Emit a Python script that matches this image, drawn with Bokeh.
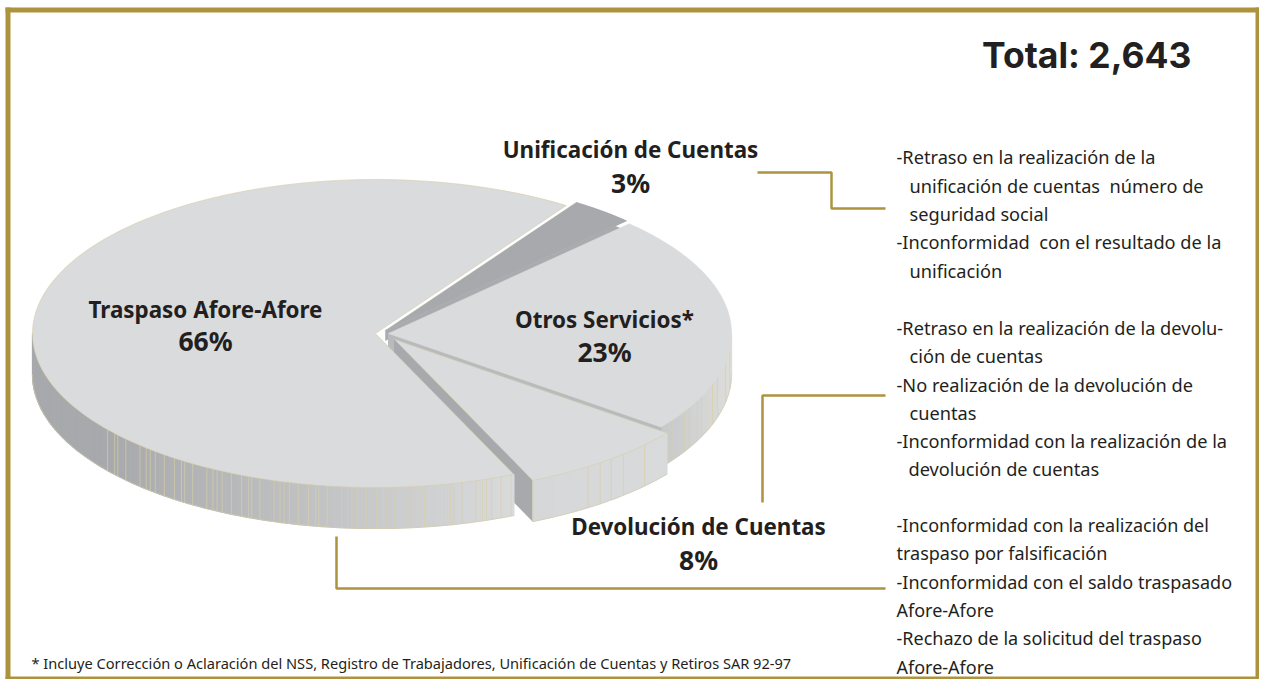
import numpy as np
from bokeh.plotting import figure
from bokeh.models import Range1d
from bokeh.core.properties import value
from bokeh.embed import file_html
from bokeh.resources import INLINE

# ---- data ----
categories = ["Traspaso Afore-Afore", "Devolución de Cuentas", "Otros Servicios*", "Unificación de Cuentas"]
shares = [66, 8, 23, 3]
percent_labels = ["66%", "8%", "23%", "3%"]
total_label = "Total: 2,643"
footnote = "* Incluye Corrección o Aclaración del NSS, Registro de Trabajadores, Unificación de Cuentas y Retiros SAR 92-97"
unif_notes = ["-Retraso en la realización de la", "unificación de cuentas \u00a0número de", "seguridad social",
              "-Inconformidad \u00a0con el resultado de la", "unificación"]
devo_notes = ["-Retraso en la realización de la devolu-", "ción de cuentas", "-No realización de la devolución de",
              "cuentas", "-Inconformidad con la realización de la", "devolución de cuentas"]
tras_notes = ["-Inconformidad con la realización del", "traspaso por falsificación",
              "-Inconformidad con el saldo traspasado", "Afore-Afore",
              "-Rechazo de la solicitud del traspaso", "Afore-Afore"]

# ---- style / layout ----
GOLD = "#ae933e"
INK = "#231f20"
TOP = "#dadbdc"
DARK = "#a7a9ac"
EDGE = "#d6cda8"
RX, RY = 343, 154
DEPTH = 41
START = 56.2
UI = "Noto Sans"
W, H = 1259, 679

p = figure(width=W, height=H, output_backend="svg", toolbar_location=None,
           x_range=Range1d(0, W), y_range=Range1d(H, 0), min_border=0,
           outline_line_color=None, background_fill_color="white", border_fill_color="white")
p.axis.visible = False
p.grid.visible = False

# slice angle spans from the shares
spans = {}
a = START
for c, s in zip(categories, shares):
    spans[c] = (a, a + s * 3.6)
    a += s * 3.6


def pt(c, ang):
    t = np.radians(ang)
    return c[0] + RX * np.cos(t), c[1] - RY * np.sin(t)


def arc(c, a0, a1, n=120):
    return [pt(c, t) for t in np.linspace(a0, a1, n)]


def top_wedge(c, a0, a1, fill, edge=None):
    pts = [c] + arc(c, a0, a1)
    p.patch([q[0] for q in pts], [q[1] for q in pts], fill_color=fill,
            line_color=edge or fill, line_width=0.6)


def mix(c1, c2, f):
    f = float(np.clip(f, 0, 1))
    a_ = [int(c1[i:i+2], 16) for i in (1, 3, 5)]
    b_ = [int(c2[i:i+2], 16) for i in (1, 3, 5)]
    return "#%02x%02x%02x" % tuple(int(round(x + (y - x) * f)) for x, y in zip(a_, b_))


def side(c, a0, a1, colour_at, depth=DEPTH, step=1.0, line_every=None, line_from=0):
    ts = np.arange(a0, a1 + step, step)
    ts[-1] = a1
    xs, ys, cols = [], [], []
    for t0, t1 in zip(ts[:-1], ts[1:]):
        x0, y0 = pt(c, t0)
        x1, y1 = pt(c, t1)
        xs.append([x0, x1, x1, x0])
        ys.append([y0, y1, y1 + depth, y0 + depth])
        cols.append(colour_at((x0 + x1) / 2))
    p.patches(xs, ys, fill_color=cols, line_color=cols, line_width=1.2)
    bot = [pt(c, t) for t in ts]
    p.line([q[0] for q in bot], [q[1] + depth for q in bot], line_color=EDGE, line_width=0.6)
    if line_every:
        sx, sy, k = [], [], 0
        x_prev = None
        for t in np.arange(a0, a1, 0.05):
            x, y = pt(c, t)
            if x < line_from:
                continue
            if x_prev is None or abs(x - x_prev) >= line_every[k % len(line_every)]:
                sx.append([x, x])
                sy.append([y, y + depth])
                x_prev = x
                k += 1
        p.multi_line(sx, sy, line_color="#d8cfa6", line_width=0.8, line_alpha=0.85)


tras, devo, otro, unif = categories
c_tras, c_devo, c_otro, c_unif = (375, 333), (394, 339), (388, 333), (385, 330)

# Unificación (shown as a recessed, dark wedge)
a0, a1 = spans[unif]
a0 -= 360; a1 -= 360
pts = [(c_unif[0], c_unif[1] + 10)] + [(x, y + 10) for x, y in arc(c_unif, a0, a1, 20)] + arc(c_unif, a1, a0, 20) + [c_unif]
p.patch([q[0] for q in pts], [q[1] for q in pts], fill_color="#a9abae", line_color="#a9abae", line_width=0.5)
top_wedge(c_unif, a0, a1, DARK)

# Otros servicios
a0, a1 = spans[otro]
a0 -= 360; a1 -= 360
side(c_otro, a0, 0, lambda x: mix("#c6c7c9", "#dededb", (x - 660) / 73), depth=40, line_every=[5, 8, 4, 11], line_from=660)
pA, pB = c_otro, pt(c_otro, a0)
p.patch([pA[0], pB[0], pB[0], pA[0]], [pA[1], pB[1], pB[1] + 40, pA[1] + 40], fill_color="#b9babd", line_color="#b9babd")
top_wedge(c_otro, a0, a1, TOP)

# Devolución
a0, a1 = spans[devo]
a0 -= 360; a1 -= 360
pA, pB = c_devo, pt(c_devo, a0)
p.patch([pA[0], pB[0], pB[0], pA[0]], [pA[1], pB[1], pB[1] + DEPTH, pA[1] + DEPTH], fill_color=DARK, line_color=DARK)
side(c_devo, a0, a1, lambda x: mix("#d6d7d8", "#d9dadb", (x - 531) / 135), line_every=[21, 55, 12, 11, 12], line_from=531)
top_wedge(c_devo, a0, a1, TOP, EDGE)

# Traspaso
a0, a1 = spans[tras]
side(c_tras, 180, a1, lambda x: mix(DARK, "#d9dadb", (x - 107) / 405), line_every=[10, 7, 3, 8, 14, 6, 4, 5, 9], line_from=107)
top_wedge(c_tras, a0, a1, TOP, EDGE)

# leader lines
LW = 2.5
p.line([757, 831, 831, 885], [172, 172, 208, 208], line_color=GOLD, line_width=LW)
p.line([762, 762, 885], [502, 395, 395], line_color=GOLD, line_width=LW)
p.line([336, 336, 885], [536, 588, 588], line_color=GOLD, line_width=LW)

# frame
p.quad(left=5, right=W, top=7, bottom=12, fill_color=GOLD, line_color=None)
p.quad(left=5, right=10, top=7, bottom=H, fill_color=GOLD, line_color=None)
p.quad(left=W - 4, right=W, top=7, bottom=H, fill_color=GOLD, line_color=None)
p.quad(left=5, right=W, top=H - 3, bottom=H, fill_color=GOLD, line_color=None)


def label(x, y, txt, size, style="normal", align="left", font=UI):
    p.text([x], [y], text=[txt], text_font=value(font), text_font_size=f"{size}px",
           text_font_style=style, text_align=align, text_baseline="middle", text_color=INK)


# slice labels
name_pos = {tras: (205, 309), devo: (698, 526), otro: (604, 319), unif: (630, 149)}
pct_pos = {tras: (205, 340), devo: (698, 559), otro: (604, 351), unif: (630, 182)}
for c, pct in zip(categories, percent_labels):
    label(*name_pos[c], c, 22.4, "bold", "center")
    label(*pct_pos[c], pct, 26.5, "bold", "center")

label(1191, 55, total_label, 35.5, "bold", "right", "Inter")

for txt, x, y in zip(unif_notes, [896, 909, 909, 896, 909], [156, 185, 213, 241, 270]):
    label(x, y, txt, 18.2)
for txt, x, y in zip(devo_notes, [896, 909, 896, 909, 896, 908], [327, 355, 384, 412, 440, 468]):
    label(x, y, txt, 18.2)
for txt, y in zip(tras_notes, [524, 552, 581, 609, 637, 666]):
    label(896, y, txt, 18.0)
label(31, 662, footnote, 14.6)

open("out.html", "w").write(file_html(p, INLINE))
